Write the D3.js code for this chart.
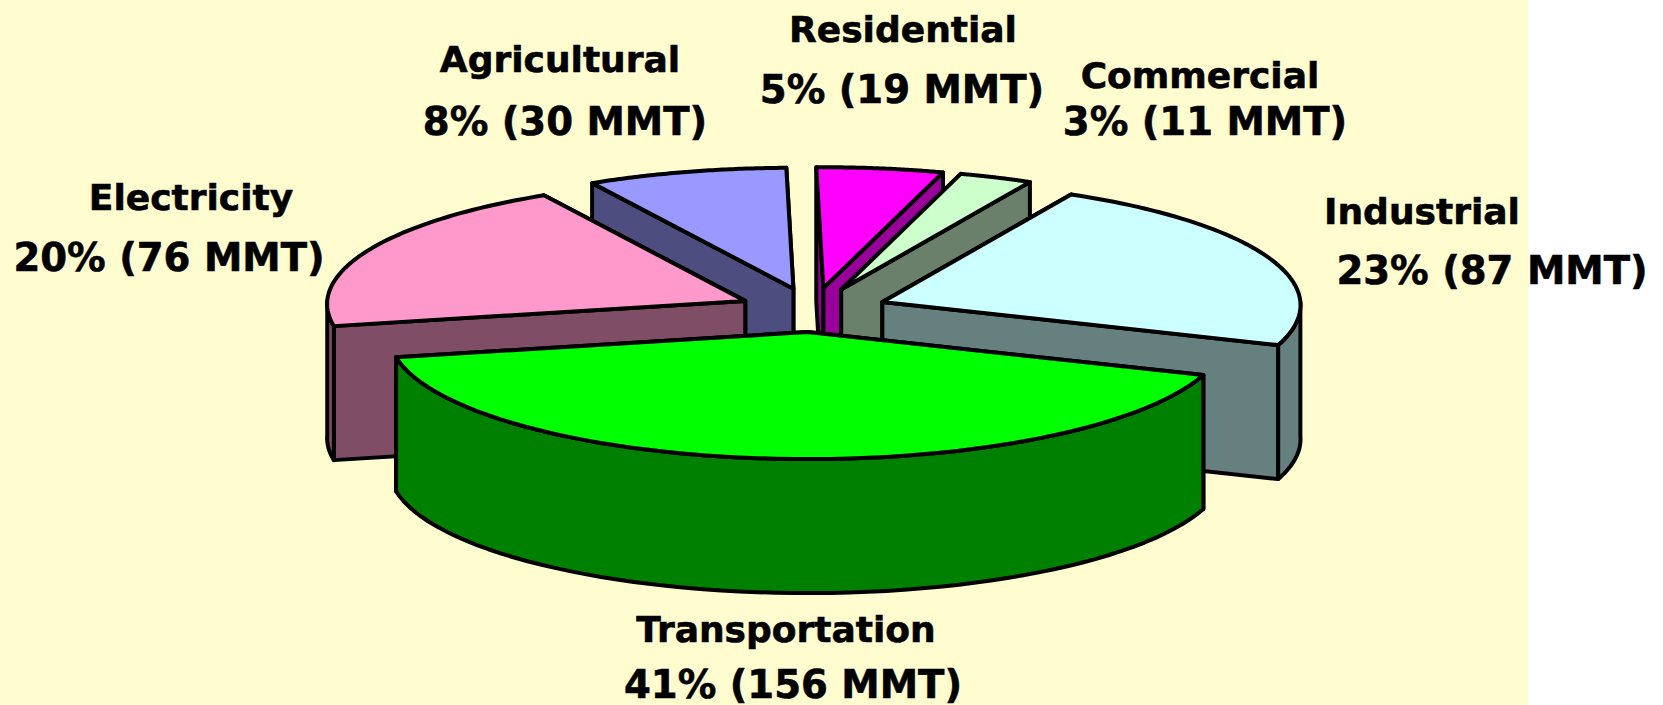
<html>
<head>
<meta charset="utf-8">
<script src="https://d3js.org/d3.v7.min.js"></script>
<style>
  body { margin: 0; background: #fff; overflow: hidden; }
  text { font-family: "DejaVu Sans", sans-serif; font-weight: bold; fill: #000; stroke: #000; stroke-width: 0.6; }
</style>
</head>
<body>
  <svg width="1663" height="705"></svg>
  <script>

  // values
  var sectors = ["Residential", "Commercial", "Industrial", "Transportation", "Electricity", "Agricultural"];
  var mmt = [19, 11, 87, 156, 76, 30];
  var percents = [5, 3, 23, 41, 20, 8];
  var topColors = ["#ff00ff", "#ccffcc", "#ccffff", "#00ff00", "#ff99cc", "#9999ff"];
  var sideColors = ["#990099", "#6b806b", "#668080", "#008000", "#804d66", "#4d4d80"];

  // back slices first so the front ones cover them
  var drawOrder = ["Agricultural", "Residential", "Commercial", "Electricity", "Industrial", "Transportation"];

  // pie geometry, persp shrinks the back of the disc a little
  var cx = 813, cy = 310, rx = 418, ry = 124, depth = 134, explode = 0.178, persp = 0.025;
  var rad = Math.PI / 180;

  // label placement: [centre x, first baseline, centre x, second baseline]
  var labelPlaces = {
    Residential: [903, 42, 902, 103],
    Commercial: [1200, 88, 1205, 135],
    Industrial: [1422, 224, 1492, 284],
    Transportation: [786, 642, 793, 698],
    Electricity: [191, 210, 169, 271],
    Agricultural: [560, 72, 565, 135]
  };

  var svg = d3.select("svg");

  svg.append("rect")
    .attr("width", 1528)
    .attr("height", 705)
    .attr("fill", "#fffdd0");

  var pie = d3.pie().sort(null)
    .startAngle(-1 * rad)
    .endAngle(359 * rad);

  var slices = pie(mmt).map(function (d, i) {
    d.name = sectors[i];
    d.top = topColors[i];
    d.side = sideColors[i];
    var mid = (d.startAngle + d.endAngle) / 2;
    d.ox = cx + explode * rx * Math.sin(mid);
    d.oy = cy - explode * ry * Math.cos(mid);
    return d;
  });

  function rim(d, a, drop) {
    var s = 1 - persp * Math.cos(a);
    return [d.ox + rx * s * Math.sin(a), d.oy - ry * s * Math.cos(a) + (drop || 0)];
  }

  function arcPoints(a0, a1, drop, d) {
    return d3.range(0, 61).map(function (k) {
      return rim(d, a0 + (a1 - a0) * k / 60, drop);
    });
  }

  var line = d3.line();

  function closed(pts) { return line(pts) + "Z"; }

  function radialWall(d, a) {
    return closed([[d.ox, d.oy], rim(d, a), rim(d, a, depth), [d.ox, d.oy + depth]]);
  }

  // the wall further back is drawn first
  function backAngle(d) {
    return Math.cos(d.startAngle) > Math.cos(d.endAngle) ? d.startAngle : d.endAngle;
  }

  function frontAngle(d) {
    return Math.cos(d.startAngle) > Math.cos(d.endAngle) ? d.endAngle : d.startAngle;
  }

  function outerWall(d) {
    var a0 = Math.max(d.startAngle, 90 * rad);
    var a1 = Math.min(d.endAngle, 270 * rad);
    if (a1 <= a0) return null;
    return closed(arcPoints(a0, a1, 0, d).concat(arcPoints(a1, a0, depth, d)));
  }

  function topFace(d) {
    return closed([[d.ox, d.oy]].concat(arcPoints(d.startAngle, d.endAngle, 0, d)));
  }

  var groups = svg.selectAll("g.slice")
    .data(drawOrder.map(function (n) {
      return slices.filter(function (s) { return s.name === n; })[0];
    }))
    .enter()
    .append("g")
    .attr("class", "slice")
    .attr("stroke", "#000")
    .attr("stroke-width", 4)
    .attr("stroke-linejoin", "round");

  groups.append("path")
    .attr("d", function (d) { return radialWall(d, backAngle(d)); })
    .attr("fill", function (d) { return d.side; });

  groups.append("path")
    .attr("d", function (d) { return radialWall(d, frontAngle(d)); })
    .attr("fill", function (d) { return d.side; });

  groups.filter(function (d) { return outerWall(d) !== null; })
    .append("path")
    .attr("d", outerWall)
    .attr("fill", function (d) { return d.side; });

  groups.append("path")
    .attr("d", topFace)
    .attr("fill", function (d) { return d.top; });

  // two line labels
  var labels = svg.selectAll("g.label")
    .data(slices)
    .enter()
    .append("g")
    .attr("class", "label")
    .attr("text-anchor", "middle");

  labels.append("text")
    .attr("font-size", 36)
    .attr("x", function (d) { return labelPlaces[d.name][0]; })
    .attr("y", function (d) { return labelPlaces[d.name][1]; })
    .text(function (d) { return d.name; });

  labels.append("text")
    .attr("font-size", 38.6)
    .attr("x", function (d) { return labelPlaces[d.name][2]; })
    .attr("y", function (d) { return labelPlaces[d.name][3]; })
    .text(function (d, i) { return percents[i] + "% (" + d.value + " MMT)"; });

  </script>
</body>
</html>
